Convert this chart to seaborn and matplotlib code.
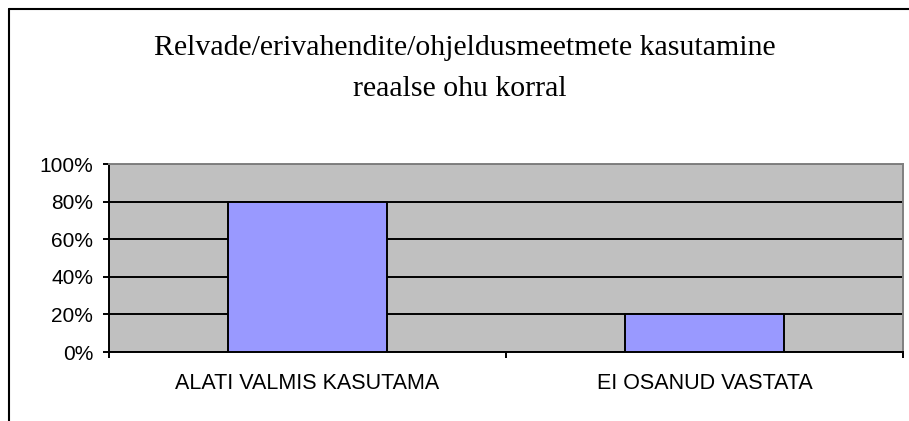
import matplotlib
matplotlib.use("Agg")
import matplotlib.pyplot as plt
from matplotlib.lines import Line2D
from matplotlib.ticker import PercentFormatter, FixedLocator
import seaborn as sns

categories = ["ALATI VALMIS KASUTAMA", "EI OSANUD VASTATA"]
shares = [0.80, 0.20]
title_lines = ["Relvade/erivahendite/ohjeldusmeetmete kasutamine", "reaalse ohu korral"]

sns.set_style("white")
plt.rcParams["font.family"] = ["Liberation Sans", "DejaVu Sans"]
plt.rcParams["text.color"] = "black"
plt.rcParams["xtick.color"] = "black"
plt.rcParams["ytick.color"] = "black"

fig = plt.figure(figsize=(9.09, 4.21), dpi=100)
ax = fig.add_axes([109 / 909, 69 / 421, 794 / 909, 188 / 421])
ax.set_facecolor("#C0C0C0")

sns.barplot(x=categories, y=shares, color="#9999FF", saturation=1, width=0.4,
            edgecolor="black", linewidth=1.4, ax=ax, zorder=3)

ax.set_xlim(-0.5, 1.5)
ax.set_ylim(0, 1)
ax.set_yticks([0, 0.2, 0.4, 0.6, 0.8, 1.0])
ax.yaxis.set_major_formatter(PercentFormatter(1.0, decimals=0))
ax.grid(axis="y", color="black", linewidth=1.4)
ax.set_axisbelow(True)

# category boundary ticks like the Excel original
ax.xaxis.set_minor_locator(FixedLocator([-0.5, 0.5, 1.5]))
ax.tick_params(axis="x", which="major", bottom=True, length=0, pad=15, labelsize=15.5)
ax.tick_params(axis="x", which="minor", bottom=True, length=4, width=1.4, direction="out")
ax.tick_params(axis="y", left=True, length=4.5, width=1.4, direction="out", pad=7, labelsize=15)
ax.set_xlabel("")
ax.set_ylabel("")

for side in ["left", "bottom"]:
    ax.spines[side].set_color("black")
    ax.spines[side].set_linewidth(1.4)
for side in ["top", "right"]:
    ax.spines[side].set_color("#808080")
    ax.spines[side].set_linewidth(1.4)

# chart area border (left and top only visible)
fig.add_artist(Line2D([9 / 909, 9 / 909], [0, 1 - 9 / 421], color="black", linewidth=1.5, transform=fig.transFigure))
fig.add_artist(Line2D([9 / 909, 1], [1 - 9 / 421, 1 - 9 / 421], color="black", linewidth=1.5, transform=fig.transFigure))

fig.text(465 / 909, 1 - 55 / 421, title_lines[0], ha="center", va="baseline",
         fontsize=21.5, family=["Liberation Serif", "DejaVu Serif"])
fig.text(460 / 909, 1 - 96 / 421, title_lines[1], ha="center", va="baseline",
         fontsize=21.5, family=["Liberation Serif", "DejaVu Serif"])

fig.savefig("out.png", dpi=100)
